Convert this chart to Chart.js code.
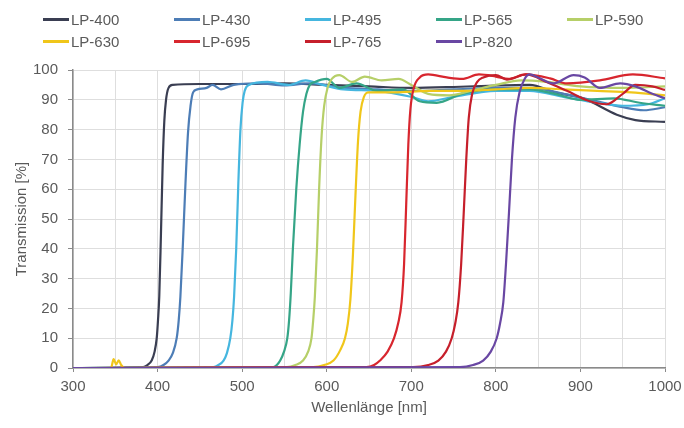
<!DOCTYPE html>
<html>
<head>
<meta charset="utf-8">
<script src="https://cdn.jsdelivr.net/npm/chart.js@4.4.1/dist/chart.umd.min.js"></script>
<style>
html, body { margin: 0; padding: 0; background: #ffffff; }
#wrap { position: relative; width: 684px; height: 428px; }
#legend { position: absolute; left: 0; top: 0; width: 684px; height: 60px;
  font-family: "Liberation Sans", Arial, sans-serif; font-size: 15px; color: #5a5a5a; }
.li { position: absolute; height: 20px; display: flex; align-items: center; white-space: nowrap; }
.sw { display: inline-block; width: 26px; height: 3px; margin-right: 2px; }
</style>
</head>
<body>
<div id="wrap">
  <canvas id="c" width="684" height="428"></canvas>
  <div id="legend"></div>
</div>
<script>
// ---- data: [wavelength nm, transmission %] ----
const seriesNames = ["LP-400", "LP-430", "LP-495", "LP-565", "LP-590", "LP-630", "LP-695", "LP-765", "LP-820"];
const xTickValues = [300, 400, 500, 600, 700, 800, 900, 1000];
const yTickValues = [0, 10, 20, 30, 40, 50, 60, 70, 80, 90, 100];

const LP400 = [[300,0],[383,0.3],[388,1],[393,2.5],[396.5,5.5],[399,10],[400.5,16],[402,24],[404,45],[406,68],[408,83],[410,90],[413,94],[418,95],[450,95.3],[500,95.3],[550,95.5],[600,95],[650,94.5],[700,94],[750,94.3],[800,94.8],[840,95],[870,92.5],[903,90.5],[943,85],[965,83.2],[1000,82.6]];
const LP430 = [[300,0],[400,0.3],[407,1],[413,2.5],[418,5],[422.6,10],[425,16],[427,24],[430,42],[433,62],[436,79],[439,88],[442,92.5],[447,93.5],[458,94],[465,95],[475,93.5],[490,95],[520,95.5],[550,94.8],[580,95.5],[620,94],[660,93.5],[700,93],[750,93.5],[800,94],[840,94],[880,92],[920,89.5],[950,87.5],[975,86.5],[1000,87.5]];
const LP495 = [[300,0],[466,0.3],[472,1],[478,2.5],[482,5],[486,10],[488.5,16],[490.5,24],[493,40],[495.5,62],[498,80],[500.5,89],[503,93],[508,95],[530,96],[555,95],[575,96.5],[595,95],[620,93.5],[660,93],[700,91],[720,89.5],[750,91],[800,93],[840,93],[880,91],[920,89],[950,88],[980,88.5],[1000,90.5]];
const LP565 = [[300,0],[537,0.3],[541,1],[545,2.5],[549.5,5.5],[553.4,10],[555.5,16],[557.5,25],[560,40],[564,60],[568,75],[572,86],[576,92],[580,95],[586,96],[600,97],[615,94],[635,95.5],[660,93],[690,93.5],[710,89.5],[730,89],[760,92],[800,93.5],[840,93.5],[870,92],[900,90],[940,90.5],[970,89],[1000,88]];
const LP590 = [[300,0],[553,0.3],[563,1],[572,2.5],[578,5.5],[582,10],[584,16],[586,24],[588.5,40],[591,60],[594,78],[597,88],[601,94],[606,97],[615,98.3],[630,96],[645,97.8],[665,96.5],[685,97],[700,95],[720,92],[745,91.5],[770,93],[800,95],[830,96.5],[860,96],[900,94.5],[950,94],[1000,94.5]];
const LP630 = [[300,0],[345,0],[348,3],[351,1.2],[354,2.6],[357,1],[361,0],[584,0.3],[597,1],[608,2.5],[616,6],[621.6,10],[625,15],[628,23],[631,38],[634,58],[637,76],[640,86],[644,91],[650,92.5],[680,92.5],[720,93],[760,93],[800,93.5],[840,94],[880,93.5],[920,93],[960,92.5],[1000,91.5]];
const LP695 = [[300,0],[647,0.3],[656,1],[663,2.5],[672,5.5],[679.6,10],[684.5,15],[688.5,22],[691.5,35],[694,55],[696.5,75],[699,87],[703,94],[710,97.5],[720,98.5],[742,97.5],[760,97],[780,98.5],[800,97.8],[815,97],[835,98.5],[864,97.2],[884,95.5],[923,96.5],[962,98.5],[1000,97.2]];
const LP765 = [[300,0],[702,0.3],[720,1],[732,2.5],[741,5.5],[747.8,10],[752,15],[755.6,22],[759,35],[762,52],[765,70],[768,84],[772,92],[778,96],[785,97.5],[800,98.3],[813,96.8],[836,98.5],[860,96],[884,93],[911,89.5],[931,88.5],[950,92],[965,95],[985,94.5],[1000,93.3]];
const LP820 = [[300,0],[757.6,0.3],[773,1],[785,2.5],[794,5.5],[801,10],[805,15],[808.8,22],[812,35],[815.5,52],[819,70],[823,84],[828,92.5],[834,97],[840,98.5],[850,97.5],[868,95.5],[892,98.3],[905,97.5],[923,94],[947,95.5],[965,94.5],[985,92],[1000,90.5]];

const curves = [LP400, LP430, LP495, LP565, LP590, LP630, LP695, LP765, LP820];
const colors = ["#3a3e52", "#4d7db6", "#45b6df", "#35a587", "#b6cf68", "#f0c61a", "#d8262e", "#c61f2b", "#6947a3"];

// ---- styling / layout ----
const FONT = '"Liberation Sans", Arial, sans-serif';
const TEXT = '#5a5a5a';
const GRID = '#dedede';
const AXIS = '#8a8a8a';
const PLOT = { left: 73, right: 665, top: 70, bottom: 368 };
const W = 684, H = 428;
const legendRowY = [19, 41];

Chart.defaults.font.family = FONT;
Chart.defaults.font.size = 15;
Chart.defaults.color = TEXT;

const htmlLegend = {
  id: 'htmlLegend',
  afterUpdate(chart) {
    const box = document.getElementById('legend');
    box.innerHTML = '';
    chart.data.datasets.forEach((ds, i) => {
      const col = i % 5, row = Math.floor(i / 5);
      const item = document.createElement('div');
      item.className = 'li';
      item.style.left = (43 + 131 * col) + 'px';
      item.style.top = (legendRowY[row] - 10) + 'px';
      const sw = document.createElement('span');
      sw.className = 'sw';
      sw.style.background = ds.borderColor;
      const tx = document.createElement('span');
      tx.textContent = ds.label;
      item.append(sw, tx);
      box.append(item);
    });
  }
};

new Chart(document.getElementById('c'), {
  type: 'line',
  data: {
    datasets: seriesNames.map((name, i) => ({
      label: name,
      data: curves[i].map(p => ({ x: p[0], y: p[1] })),
      borderColor: colors[i],
      backgroundColor: colors[i],
      borderWidth: 2.2,
      pointRadius: 0,
      pointHoverRadius: 0,
      fill: false,
      cubicInterpolationMode: 'monotone',
      order: seriesNames.length - i
    }))
  },
  options: {
    responsive: false,
    animation: false,
    devicePixelRatio: 1,
    layout: { padding: { left: 0, right: W - PLOT.right, top: PLOT.top, bottom: 0 } },
    plugins: {
      legend: { display: false },
      tooltip: { enabled: false }
    },
    scales: {
      x: {
        type: 'linear',
        min: xTickValues[0],
        max: xTickValues[xTickValues.length - 1],
        afterFit: s => { s.height = H - PLOT.bottom; s.paddingRight = 0; s.paddingLeft = 0; },
        ticks: {
          stepSize: 50,
          autoSkip: false,
          maxRotation: 0,
          padding: 6,
          color: TEXT,
          font: { size: 15 },
          callback: v => (xTickValues.includes(v) ? String(v) : '')
        },
        grid: {
          color: GRID,
          lineWidth: 1,
          tickLength: 4,
          tickColor: ctx => (ctx.tick && xTickValues.includes(ctx.tick.value) ? AXIS : 'rgba(0,0,0,0)')
        },
        border: { color: AXIS, width: 1.5 },
        title: {
          display: true,
          text: 'Wellenlänge [nm]',
          color: TEXT,
          font: { size: 15 },
          padding: { top: 4, bottom: 11 }
        }
      },
      y: {
        min: yTickValues[0],
        max: yTickValues[yTickValues.length - 1],
        afterFit: s => { s.width = PLOT.left; },
        afterBuildTicks: s => { s.ticks = yTickValues.map(v => ({ value: v })); },
        ticks: { padding: 10, color: TEXT, font: { size: 15 } },
        grid: { color: GRID, lineWidth: 1, tickLength: 5, tickColor: AXIS },
        border: { color: AXIS, width: 1.5 },
        title: {
          display: true,
          text: 'Transmission [%]',
          color: TEXT,
          font: { size: 15 },
          padding: { top: 13, bottom: 4 }
        }
      }
    }
  },
  plugins: [htmlLegend]
});
</script>
</body>
</html>
